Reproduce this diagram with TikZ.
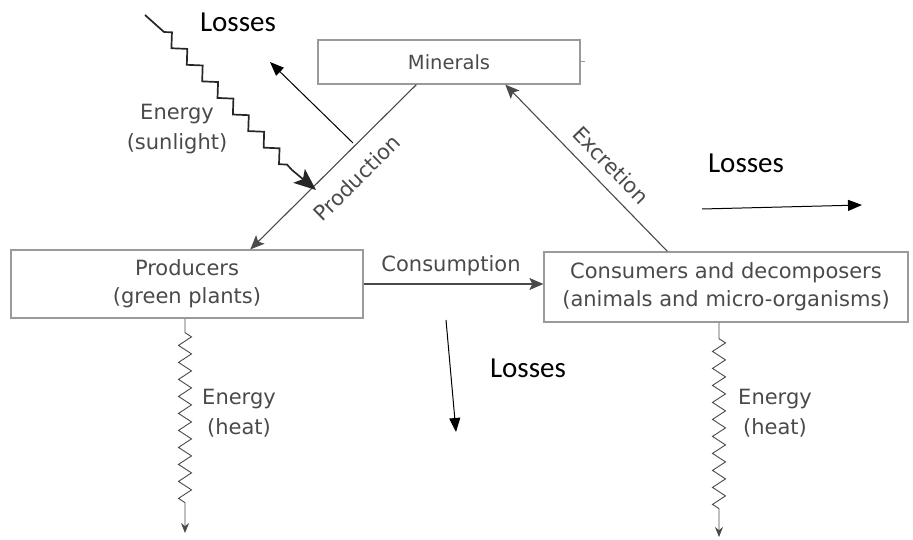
\documentclass[tikz,border=0pt]{standalone}
\usepackage{fontspec}
\setmainfont{DejaVu Sans}
\newfontfamily\lossfont{Carlito}
\usetikzlibrary{arrows.meta,decorations.pathmorphing,calc}
\definecolor{ink}{HTML}{4A4A4A}
\definecolor{frame}{HTML}{9A9A9A}
\begin{document}
\begin{tikzpicture}[x=1pt,y=-1pt,
  box/.style={draw=frame,line width=1.3pt,inner sep=0pt,align=center,text=ink,
    font=\fontsize{21}{28}\selectfont},
  lbl/.style={text=ink,align=center,font=\fontsize{21}{30}\selectfont},
  conn/.style={draw=ink,line width=1.1pt,-{Stealth[length=14pt,width=12pt,inset=3pt]}},
  loss/.style={draw=black,line width=1pt,-{Triangle[length=14pt,width=11pt]}},
  losstext/.style={font=\lossfont\fontsize{29}{32}\selectfont,text=black},
  heat/.style={draw=ink,line width=0.9pt,
    decoration={zigzag,segment length=17pt,amplitude=6.5pt},
    -{Stealth[length=10pt,width=8pt]}},
  sun/.style={draw=black!85,line width=1.7pt,
    decoration={zigzag,segment length=22.6pt,amplitude=5.6pt},
    -{Stealth[length=22pt,width=18pt,inset=5pt]}}]
\useasboundingbox (0,0) rectangle (913,540);

% boxes
\node[box,minimum width=262pt,minimum height=44pt,font=\fontsize{19.5}{26}\selectfont]
  (min) at (449,62) {Minerals};
\node[box,minimum width=352pt,minimum height=68pt] (prod) at (187,284)
  {Producers\\(green plants)};
\node[box,minimum width=364pt,minimum height=70pt] (cons) at (726,287)
  {Consumers and decomposers\\(animals and micro-organisms)};
\draw[draw=frame,line width=1pt] (min.east) -- ++(4,0);

% nutrient cycle
\draw[conn] ($(min.south west)+(99,0)$) coordinate (pa) -- ($(prod.north west)+(240,0)$) coordinate (pb);
\draw[conn] ($(cons.north west)+(124,0)$) coordinate (ea) -- ($(min.south west)+(188,0)$) coordinate (eb);
\draw[conn] (prod.east) -- (prod.east -| cons.west);
\node[lbl,anchor=south] (consl) at (451,279) {Consumption};
\node[lbl,rotate=44.5] (prodl) at (357,178) {Production};
\node[lbl,rotate=-46] (excl) at (611,165) {Excretion};

% sunlight in
\coordinate (s0) at (145,15);
\coordinate (s1) at (164,32);
\coordinate (s2) at (292,170);
\coordinate (s3) at (316,190);
\draw[sun] (s0) -- (s1) decorate{-- (s2)} -- (s3);
\node[lbl] (sunl) at (177,129) {Energy\\(sunlight)};

% heat out
\coordinate (h1) at ($(prod.south)+(-2,0)$);
\coordinate (h2) at (185,533);
\draw[heat] (h1) -- ++(0,14) decorate{-- ++(0,171)} -- (h2);
\node[lbl] (heat1) at (239,413) {Energy\\(heat)};
\coordinate (k1) at ($(cons.south)+(-7,0)$);
\coordinate (k2) at (719,537);
\draw[heat] (k1) -- ++(0,16) decorate{-- ++(0,171)} -- (k2);
\node[lbl] (heat2) at (775,413) {Energy\\(heat)};

% losses
\coordinate (la) at (353,143); \coordinate (lb) at (270,62);
\draw[loss] (la) -- (lb);
\node[losstext] (l1) at (238,22) {Losses};
\coordinate (lc) at (702,209); \coordinate (ld) at (862,205);
\draw[loss] (lc) -- (ld);
\node[losstext] (l2) at (746,163) {Losses};
\coordinate (le) at (446,320); \coordinate (lf) at (456,432);
\draw[loss] (le) -- (lf);
\node[losstext] (l3) at (528,368) {Losses};
\end{tikzpicture}
\end{document}
